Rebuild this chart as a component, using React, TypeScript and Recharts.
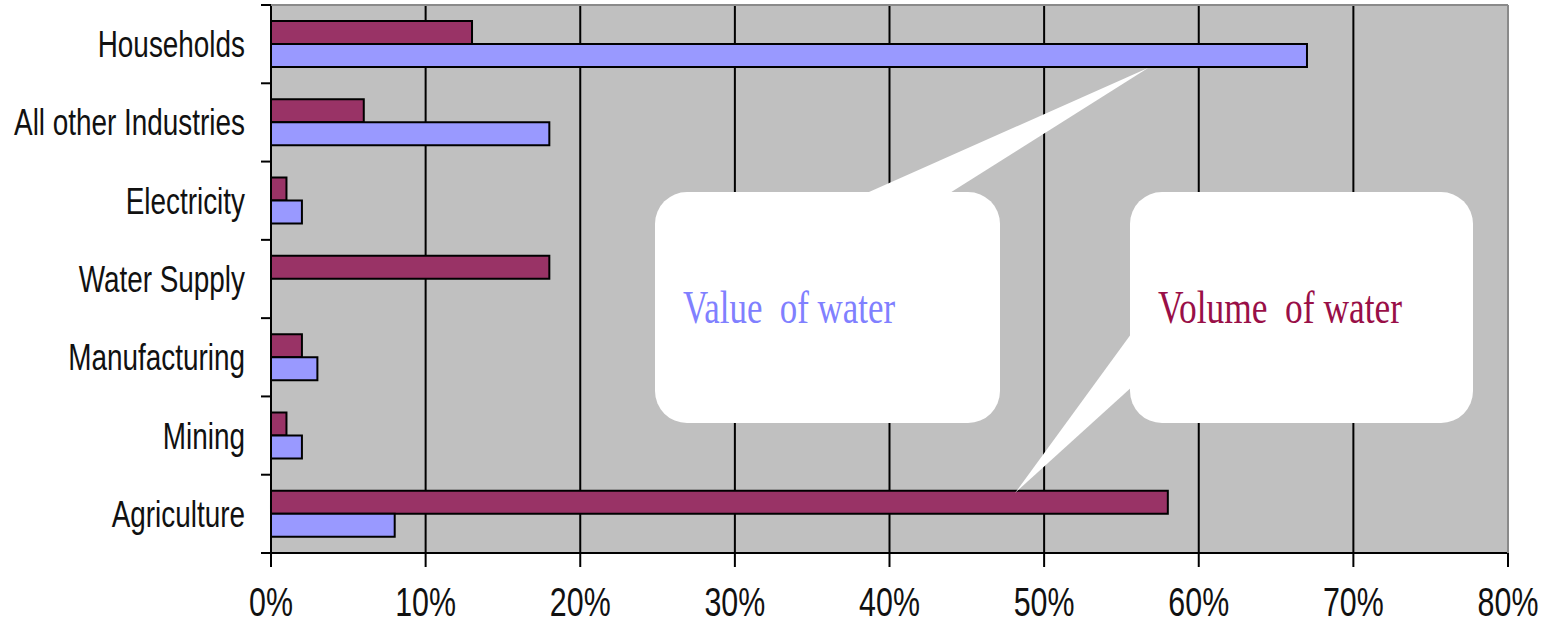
import React from 'react';
import { BarChart, Bar, XAxis, YAxis, CartesianGrid } from 'recharts';

const categories = ['Households', 'All other Industries', 'Electricity', 'Water Supply', 'Manufacturing', 'Mining', 'Agriculture'];
const volumeOfWater = [13, 6, 1, 18, 2, 1, 58];
const valueOfWater = [67, 18, 2, 0, 3, 2, 8];
const xTicks = [0, 10, 20, 30, 40, 50, 60, 70, 80];

const W = 1549;
const H = 625;
const PLOT_LEFT = 271;
const PLOT_TOP = 5;
const PLOT_RIGHT = 1508;
const PLOT_BOTTOM = 553;
const BAND = (PLOT_BOTTOM - PLOT_TOP) / categories.length;

const data = categories.map((name, i) => ({ name, volume: volumeOfWater[i], value: valueOfWater[i] }));

const YTick = (props: any) => {
  const { y, payload, index } = props;
  const top = y - BAND / 2;
  return (
    <g>
      <line x1={PLOT_LEFT - 10} x2={PLOT_LEFT} y1={top} y2={top} stroke="#000" strokeWidth={2} />
      {index === categories.length - 1 && (
        <line x1={PLOT_LEFT - 10} x2={PLOT_LEFT} y1={y + BAND / 2} y2={y + BAND / 2} stroke="#000" strokeWidth={2} />
      )}
      <text
        transform={`translate(${PLOT_LEFT - 26},${y + 13}) scale(0.775,1)`}
        textAnchor="end"
        fontFamily="'Liberation Sans', Arial, sans-serif"
        fontSize={36}
        fill="#111"
      >
        {payload.value}
      </text>
    </g>
  );
};

const XTick = (props: any) => {
  const { x, payload } = props;
  return (
    <text
      transform={`translate(${x},${616}) scale(0.76,1)`}
      textAnchor="middle"
      fontFamily="'Liberation Sans', Arial, sans-serif"
      fontSize={40}
      fill="#111"
    >
      {`${payload.value}%`}
    </text>
  );
};

const Overlay = () => (
  <svg
    width={W}
    height={H}
    style={{ position: 'absolute', left: 0, top: 0, pointerEvents: 'none' }}
  >
    <line x1={PLOT_LEFT} x2={PLOT_RIGHT} y1={PLOT_TOP} y2={PLOT_TOP} stroke="#8a8a8a" strokeWidth={2} />
    <line x1={PLOT_RIGHT} x2={PLOT_RIGHT} y1={PLOT_TOP} y2={PLOT_BOTTOM} stroke="#8a8a8a" strokeWidth={2} />
    {/* Value of water callout */}
    <polygon points="860,196 1148,68 945,196" fill="#fff" />
    <rect x={655} y={192} width={345} height={231} rx={32} ry={32} fill="#fff" />
    <text
      x={683}
      y={323}
      fontFamily="'Liberation Serif', 'Times New Roman', serif"
      fontSize={47}
      fill="#8080ff"
      textLength={212}
      lengthAdjust="spacingAndGlyphs"
      style={{ whiteSpace: 'pre' }}
    >
      {'Value  of water'}
    </text>
    {/* Volume of water callout */}
    <polygon points="1134,330 1015,493 1134,385" fill="#fff" />
    <rect x={1130} y={192} width={343} height={231} rx={32} ry={32} fill="#fff" />
    <text
      x={1158}
      y={323}
      fontFamily="'Liberation Serif', 'Times New Roman', serif"
      fontSize={47}
      fill="#990f47"
      textLength={244}
      lengthAdjust="spacingAndGlyphs"
      style={{ whiteSpace: 'pre' }}
    >
      {'Volume  of water'}
    </text>
  </svg>
);

export default function App() {
  return (
    <div style={{ position: 'absolute', left: 0, top: 0, width: W, height: H, background: '#fff' }}>
      <BarChart
        width={W}
        height={H}
        data={data}
        layout="vertical"
        margin={{ top: PLOT_TOP, right: W - PLOT_RIGHT, bottom: 0, left: 0 }}
        barGap={0}
      >
        <CartesianGrid horizontal={false} stroke="#000" strokeWidth={2} fill="#c0c0c0" strokeOpacity={1} />
        <XAxis
          type="number"
          domain={[0, 80]}
          ticks={xTicks}
          interval={0}
          height={H - PLOT_BOTTOM}
          axisLine={{ stroke: '#000', strokeWidth: 2 }}
          tickLine={{ stroke: '#000', strokeWidth: 2 }}
          tickSize={14}
          tick={<XTick />}
        />
        <YAxis
          type="category"
          dataKey="name"
          width={PLOT_LEFT}
          interval={0}
          axisLine={{ stroke: '#000', strokeWidth: 2 }}
          tickLine={false}
          tick={<YTick />}
        />
        <Bar dataKey="volume" fill="#993366" stroke="#000" strokeWidth={2} barSize={23} isAnimationActive={false} />
        <Bar dataKey="value" fill="#9999ff" stroke="#000" strokeWidth={2} barSize={23} isAnimationActive={false} />
      </BarChart>
      <Overlay />
    </div>
  );
}
